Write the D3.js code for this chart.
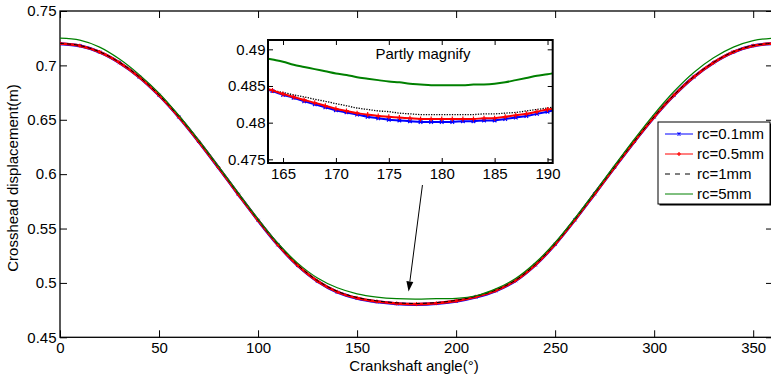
<!DOCTYPE html>
<html>
<head>
<meta charset="utf-8">
<script src="https://cdn.jsdelivr.net/npm/d3@7"></script>
<style>
  body { margin: 0; background: #fff; }
  text { font-family: "Liberation Sans", Arial, sans-serif; }
</style>
</head>
<body>
<svg id="chart" width="771" height="377"></svg>
<script>
// main plot, every 10 degrees
const angles = [0,10,20,30,40,50,60,70,80,90,100,110,120,130,140,150,160,170,180,
                190,200,210,220,230,240,250,260,270,280,290,300,310,320,330,340,350,360];
const rc01 = [0.7200,0.7180,0.7122,0.7025,0.6893,0.6725,0.6525,0.6300,0.6060,0.5815,0.5575,0.5350,0.5160,0.5015,0.4915,0.4858,0.4826,0.4808,0.4802,
              0.4810,0.4832,0.4870,0.4928,0.5020,0.5165,0.5355,0.5580,0.5820,0.6062,0.6300,0.6525,0.6725,0.6893,0.7025,0.7122,0.7180,0.7200];
const rc05 = [0.7201,0.7181,0.7123,0.7026,0.6894,0.6726,0.6526,0.6301,0.6061,0.5816,0.5576,0.5351,0.5162,0.5017,0.4918,0.4861,0.4829,0.4811,0.4805,
              0.4813,0.4835,0.4873,0.4930,0.5022,0.5167,0.5356,0.5581,0.5821,0.6063,0.6301,0.6526,0.6726,0.6894,0.7026,0.7123,0.7181,0.7201];
const rc1  = [0.7203,0.7183,0.7125,0.7028,0.6896,0.6728,0.6528,0.6303,0.6063,0.5818,0.5578,0.5353,0.5165,0.5021,0.4923,0.4866,0.4835,0.4817,0.4811,
              0.4819,0.4840,0.4877,0.4934,0.5025,0.5169,0.5358,0.5583,0.5823,0.6065,0.6303,0.6528,0.6728,0.6896,0.7028,0.7125,0.7183,0.7203];
const rc5  = [0.7250,0.7232,0.7168,0.7058,0.6915,0.6745,0.6540,0.6312,0.6072,0.5827,0.5587,0.5365,0.5182,0.5045,0.4955,0.4900,0.4870,0.4855,0.4851,
              0.4856,0.4858,0.4882,0.4945,0.5040,0.5185,0.5372,0.5596,0.5836,0.6080,0.6322,0.6552,0.6760,0.6935,0.7070,0.7168,0.7228,0.7250];

// inset ("Partly magnify"), every degree
const zoomAngles = [163,164,165,166,167,168,169,170,171,172,173,174,175,176,177,178,179,180,181,182,183,184,185,186,187,188,189,190,191];
const zoom01 = [0.4847,0.4843,0.4838,0.4834,0.4829,0.4825,0.4821,0.4817,0.4814,0.4811,0.4808,0.4806,0.4804,0.4803,0.4802,0.4801,0.4801,0.4801,0.4801,0.4802,0.4802,0.4803,0.4803,0.4805,0.4807,0.4809,0.4812,0.4815,0.4818];
const zoom05 = [0.4848,0.4844,0.4839,0.4835,0.4831,0.4827,0.4823,0.4819,0.4816,0.4813,0.4811,0.4809,0.4808,0.4807,0.4806,0.4805,0.4805,0.4805,0.4805,0.4805,0.4805,0.4806,0.4806,0.4808,0.4810,0.4812,0.4815,0.4818,0.4820];
const zoom1  = [0.4847,0.4844,0.4841,0.4838,0.4835,0.4832,0.4829,0.4826,0.4823,0.4820,0.4818,0.4816,0.4815,0.4813,0.4812,0.4811,0.4811,0.4811,0.4811,0.4811,0.4811,0.4812,0.4812,0.4813,0.4814,0.4816,0.4818,0.4820,0.4822];
const zoom5  = [0.4889,0.4886,0.4883,0.4879,0.4876,0.4873,0.4870,0.4867,0.4865,0.4862,0.4860,0.4858,0.4856,0.4855,0.4853,0.4852,0.4851,0.4851,0.4851,0.4851,0.4852,0.4852,0.4853,0.4855,0.4858,0.4861,0.4864,0.4866,0.4869];

const xTicks = [0,50,100,150,200,250,300,350];
const yTicks = [0.45,0.5,0.55,0.6,0.65,0.7,0.75];
const zoomXTicks = [165,170,175,180,185,190];
const zoomYTicks = [0.475,0.48,0.485,0.49];
const seriesNames = ["rc=0.1mm","rc=0.5mm","rc=1mm","rc=5mm"];

const svg = d3.select("#chart");
svg.append("rect").attr("width", 771).attr("height", 377).attr("fill", "#fff");

const x = d3.scaleLinear().domain([0, 360]).range([60, 773]);
const y = d3.scaleLinear().domain([0.45, 0.75]).range([337.3, 11]);

const main = svg.append("g");

// axes with inward ticks, mirrored top/right
const fmt = d => String(d);
const gx = main.append("g").attr("transform", "translate(0,337.3)")
    .call(d3.axisBottom(x).tickValues(xTicks).tickFormat(fmt).tickSizeInner(-7).tickSizeOuter(0).tickPadding(5.5));
const gy = main.append("g").attr("transform", "translate(60,0)")
    .call(d3.axisLeft(y).tickValues(yTicks).tickFormat(fmt).tickSizeInner(-7).tickSizeOuter(0).tickPadding(3.5));
const gt = main.append("g").attr("transform", "translate(0,11)")
    .call(d3.axisTop(x).tickValues(xTicks).tickFormat("").tickSizeInner(-7).tickSizeOuter(0));
const gr = main.append("g").attr("transform", "translate(773,0)")
    .call(d3.axisRight(y).tickValues(yTicks).tickFormat("").tickSizeInner(-7).tickSizeOuter(0));
[gx, gy, gt, gr].forEach(g => {
    g.select(".domain").remove();
    g.selectAll("line").attr("stroke", "#000").attr("stroke-width", 1);
    g.selectAll("text").attr("font-size", 15).attr("fill", "#000").style("font-family", "Liberation Sans, Arial, sans-serif");
});
main.append("rect")
    .attr("x", 60).attr("y", 11).attr("width", 713).attr("height", 326.3)
    .attr("fill", "none").attr("stroke", "#000").attr("stroke-width", 1.3);

main.append("text").attr("x", 414).attr("y", 371).attr("text-anchor", "middle")
    .attr("font-size", 15).text("Crankshaft angle(°)");
main.append("text").attr("transform", "translate(18,178) rotate(-90)").attr("text-anchor", "middle")
    .attr("font-size", 15).text("Crosshead displacement(m)");

// lines
function drawSeries(g, xs, xa, ya, vals, style) {
    const line = d3.line().x((d, i) => xa(xs[i])).y(d => ya(d)).curve(d3.curveCatmullRom.alpha(0.5));
    g.append("path").datum(vals).attr("d", line)
        .attr("fill", "none").attr("stroke", style.color).attr("stroke-width", style.width)
        .attr("stroke-dasharray", style.dash || null);
    if (style.marker) {
        const s = style.msize;
        const sym = style.marker === "x"
            ? (px, py) => `M${px-s},${py-s}L${px+s},${py+s}M${px-s},${py+s}L${px+s},${py-s}`
            : (px, py) => `M${px-s},${py}L${px+s},${py}M${px},${py-s}L${px},${py+s}`;
        g.append("path")
            .attr("d", vals.map((d, i) => sym(xa(xs[i]), ya(d))).join(""))
            .attr("stroke", style.color).attr("stroke-width", style.mwidth || 1).attr("fill", "none");
    }
}

const plotClip = svg.append("clipPath").attr("id", "plotClip");
plotClip.append("rect").attr("x", 60).attr("y", 11).attr("width", 713).attr("height", 326.3);
const lines = main.append("g").attr("clip-path", "url(#plotClip)");
drawSeries(lines, angles, x, y, rc01, {color: "#0000ff", width: 3, marker: "x", msize: 1.5});
drawSeries(lines, angles, x, y, rc05, {color: "#ff0000", width: 2.6, marker: "+", msize: 2});
drawSeries(lines, angles, x, y, rc1, {color: "#000", width: 1, dash: "4,3"});
drawSeries(lines, angles, x, y, rc5, {color: "#008000", width: 1.2});

// arrow pointing at the minimum
const arrowFrom = [183, 0.590];
const arrowTo = [176, 0.4922];
{
    const x1 = x(arrowFrom[0]), y1 = y(arrowFrom[1]), x2 = x(arrowTo[0]), y2 = y(arrowTo[1]);
    const a = Math.atan2(y2 - y1, x2 - x1), L = 10, W = 3.5;
    const bx = x2 - L * Math.cos(a), by = y2 - L * Math.sin(a);
    main.append("line").attr("x1", x1).attr("y1", y1).attr("x2", bx).attr("y2", by)
        .attr("stroke", "#000").attr("stroke-width", 1);
    main.append("path")
        .attr("d", `M${x2},${y2}L${bx + W * Math.sin(a)},${by - W * Math.cos(a)}L${bx - W * Math.sin(a)},${by + W * Math.cos(a)}Z`)
        .attr("fill", "#000");
}

// inset
const xi = d3.scaleLinear().domain([163.58, 190.49]).range([268, 552.7]);
const yi = d3.scaleLinear().domain([0.4745, 0.49127]).range([163, 40]);
const inset = svg.append("g");
inset.append("rect").attr("x", 268).attr("y", 40).attr("width", 284.7).attr("height", 123).attr("fill", "#fff");
const insetClip = svg.append("clipPath").attr("id", "insetClip");
insetClip.append("rect").attr("x", 268).attr("y", 40).attr("width", 284.7).attr("height", 123);
const ilines = inset.append("g").attr("clip-path", "url(#insetClip)");
drawSeries(ilines, zoomAngles, xi, yi, zoom5, {color: "#008000", width: 2});
drawSeries(ilines, zoomAngles, xi, yi, zoom1, {color: "#000", width: 1.3, dash: "1.3,1.3"});
drawSeries(ilines, zoomAngles, xi, yi, zoom01, {color: "#0000ff", width: 2, marker: "x", msize: 1.8, mwidth: 1.2});
drawSeries(ilines, zoomAngles, xi, yi, zoom05, {color: "#ff0000", width: 2, marker: "+", msize: 2.5, mwidth: 1.2});

const ix = inset.append("g").attr("transform", "translate(0,163)")
    .call(d3.axisBottom(xi).tickValues(zoomXTicks).tickFormat(fmt).tickSizeInner(-5).tickSizeOuter(0).tickPadding(5));
const iy = inset.append("g").attr("transform", "translate(268,0)")
    .call(d3.axisLeft(yi).tickValues(zoomYTicks).tickFormat(fmt).tickSizeInner(-5).tickSizeOuter(0).tickPadding(2.5));
const it = inset.append("g").attr("transform", "translate(0,40)")
    .call(d3.axisTop(xi).tickValues(zoomXTicks).tickFormat("").tickSizeInner(-5).tickSizeOuter(0));
const ir = inset.append("g").attr("transform", "translate(552.7,0)")
    .call(d3.axisRight(yi).tickValues(zoomYTicks).tickFormat("").tickSizeInner(-5).tickSizeOuter(0));
[ix, iy, it, ir].forEach(g => {
    g.select(".domain").remove();
    g.selectAll("line").attr("stroke", "#000").attr("stroke-width", 1);
    g.selectAll("text").attr("font-size", 15).attr("fill", "#000").style("font-family", "Liberation Sans, Arial, sans-serif");
});
inset.append("rect").attr("x", 268).attr("y", 40).attr("width", 284.7).attr("height", 123)
    .attr("fill", "none").attr("stroke", "#000").attr("stroke-width", 2);
inset.append("text").attr("x", 423).attr("y", 59).attr("text-anchor", "middle")
    .attr("font-size", 15).text("Partly magnify");

// legend
const legend = svg.append("g").attr("transform", "translate(658,122)");
legend.append("rect").attr("x", 1.5).attr("y", 1.5).attr("width", 112).attr("height", 82).attr("fill", "#000");
legend.append("rect").attr("width", 112).attr("height", 82).attr("fill", "#fff").attr("stroke", "#000").attr("stroke-width", 1);
const legendStyles = [
    {color: "#0000ff", dash: null, marker: "x"},
    {color: "#ff0000", dash: null, marker: "+"},
    {color: "#000", dash: "5,5"},
    {color: "#008000", dash: null}
];
seriesNames.forEach((name, i) => {
    const ly = 12 + i * 20;
    const st = legendStyles[i];
    legend.append("line").attr("x1", 7).attr("x2", 35).attr("y1", ly).attr("y2", ly)
        .attr("stroke", st.color).attr("stroke-width", 1).attr("stroke-dasharray", st.dash);
    if (st.marker === "x") {
        legend.append("path").attr("d", `M19.5,${ly-1.5}L22.5,${ly+1.5}M19.5,${ly+1.5}L22.5,${ly-1.5}`).attr("stroke", st.color).attr("stroke-width", 1.2);
    } else if (st.marker === "+") {
        legend.append("path").attr("d", `M19,${ly}L23,${ly}M21,${ly-2}L21,${ly+2}`).attr("stroke", st.color).attr("stroke-width", 1.2);
    }
    legend.append("text").attr("x", 39).attr("y", ly).attr("dy", "0.35em")
        .attr("font-size", 15).text(name);
});
</script>
</body>
</html>
